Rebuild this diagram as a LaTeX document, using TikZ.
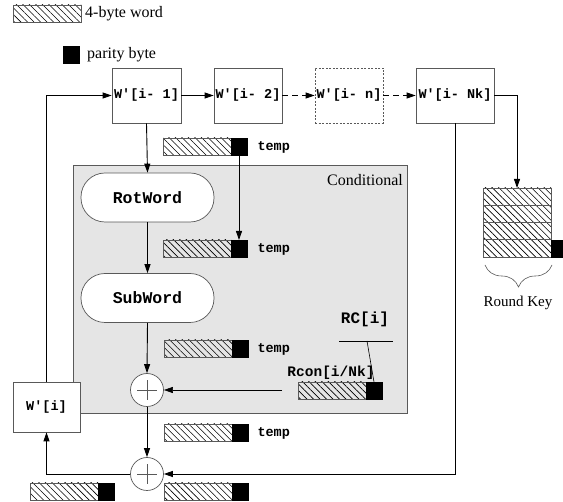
\documentclass[tikz,border=0pt]{standalone}
\usepackage{fontspec}
\setmainfont{Liberation Serif}
\setmonofont{Liberation Mono}
\usetikzlibrary{arrows.meta,patterns.meta,decorations.pathreplacing}

\tikzset{
  box/.style={draw=gray!70!black, fill=white, line width=0.7pt, inner sep=0pt},
  code/.style={font=\ttfamily\bfseries\fontsize{13.5}{16}\selectfont},
  bigcode/.style={font=\ttfamily\bfseries\fontsize{16.5}{19}\selectfont},
  label/.style={font=\fontsize{16}{19}\selectfont, inner sep=0pt},
  hatch/.style={draw=gray!70!black, line width=0.6pt,
    pattern={Lines[angle=-45,distance=4.6pt,line width=0.6pt]},
    minimum width=68pt, minimum height=17pt, inner sep=0pt, outer sep=0pt},
  parity/.style={fill=black, draw=black, line width=0.4pt,
    minimum width=16pt, minimum height=17pt, inner sep=0pt, outer sep=0pt},
  flow/.style={line width=0.9pt, -{Triangle[length=9pt,width=6pt]}},
  plain/.style={line width=0.9pt},
  thinline/.style={line width=0.6pt},
  pill/.style={draw=gray!70!black, fill=white, line width=0.7pt,
    rounded corners=24pt, minimum width=133pt, minimum height=49pt,
    bigcode},
  xor/.style={circle, draw=gray!70!black, fill=white, line width=0.7pt,
    minimum size=33pt, inner sep=0pt,
    path picture={
      \draw[gray!70!black, line width=0.5pt]
        ([xshift=-10pt]path picture bounding box.center) --
        ([xshift=10pt]path picture bounding box.center)
        ([yshift=-10pt]path picture bounding box.center) --
        ([yshift=10pt]path picture bounding box.center);
    }},
}

% a 4-byte word followed by its parity byte
\newcommand\wordbar[3]{%
  \node[hatch, anchor=north west] (#1) at (#2,#3) {};
  \node[parity, anchor=north west] (#1p) at (#1.north east) {};
}

\begin{document}
\begin{tikzpicture}[x=1pt,y=-1pt]
\useasboundingbox (0,0) rectangle (563,502);

% legend
\node[hatch, anchor=north west] (lgw) at (13,5) {};
\node[label, anchor=west] (lgwt) at (85,13.5) {4-byte word};
\node[parity, anchor=north west] (lgp) at (63,46) {};
\node[label, anchor=west] (lgpt) at (87,55) {parity byte};

% conditional region
\node[draw=gray!70!black, fill=gray!20, line width=0.7pt,
      minimum width=334pt, minimum height=248pt, inner sep=0pt,
      anchor=north west] (cond) at (73,165) {};
\node[label, anchor=east] (condt) at (403,180) {Conditional};

% previous key words
\node[box, code, minimum width=69pt, minimum height=55pt] (w1) at (146.5,95.5) {W'[i- 1]};
\node[box, code, minimum width=68pt, minimum height=55pt] (w2) at (248,95.5) {W'[i- 2]};
\node[box, code, minimum width=68pt, minimum height=55pt, dash pattern=on 2pt off 1.5pt] (wn) at (349,95.5) {W'[i- n]};
\node[box, code, minimum width=78pt, minimum height=55pt] (wnk) at (455,95.5) {W'[i- Nk]};
\node[box, code, minimum width=67pt, minimum height=50pt] (wi) at (46.5,407) {W'[i]};

% processing steps
\node[pill] (rot) at (147.5,197.5) {RotWord};
\node[pill] (sub) at (147.5,298) {SubWord};
\node[xor] (xor1) at (147,390) {};
\node[xor] (xor2) at (147,474) {};

% temp words
\wordbar{t1}{163}{138}
\node[code, anchor=west] (t1l) at (254,147) {temp};
\wordbar{t2}{163}{240}
\node[code, anchor=west] (t2l) at (254,249) {temp};
\wordbar{t3}{164}{340}
\node[code, anchor=west] (t3l) at (254,349) {temp};
\wordbar{t4}{164}{424}
\node[code, anchor=west] (t4l) at (254,433) {temp};
\wordbar{b1}{30}{483}
\wordbar{b2}{164}{483}

% round constant
\node[code, font=\ttfamily\bfseries\fontsize{14.5}{17}\selectfont] (rconl) at (331,373) {Rcon[i/Nk]};
\wordbar{rcon}{298}{382}
\node[bigcode, font=\ttfamily\bfseries\fontsize{16}{19}\selectfont] (rc) at (365,319) {RC[i]};
\coordinate (rcl) at (339,341);
\coordinate (rcr) at (393,341);
\coordinate (rck) at (367,341);
\draw[thinline] (rcl) -- (rcr);
\draw[thinline] (rck) -- (rconp.north);
\coordinate (rin) at (282,390);

% round key
\node[hatch, minimum height=17.25pt, anchor=north west] (rk1) at (483,188) {};
\node[hatch, minimum height=17.25pt, anchor=north west] (rk2) at (rk1.south west) {};
\node[hatch, minimum height=17.25pt, anchor=north west] (rk3) at (rk2.south west) {};
\node[hatch, minimum height=17.25pt, anchor=north west] (rk4) at (rk3.south west) {};
\node[parity, minimum height=17.25pt, anchor=north west] (rk4p) at (rk4.north east) {};
\coordinate (brl) at (485,265);
\coordinate (brr) at (552,265);
\draw[gray!70!black, line width=0.6pt, decorate,
      decoration={brace, amplitude=22pt, aspect=0.5, mirror}] (brl) -- (brr);
\node[font=\fontsize{15}{18}\selectfont] (rkt) at (518,303) {Round Key};

% connectors
\draw[flow] (w1.east) -- (w2.west);
\draw[flow, dash pattern=on 6pt off 4pt] (w2.east) -- (wn.west);
\draw[flow, dash pattern=on 6pt off 4pt] (wn.east) -- (wnk.west);
\draw[flow] (wnk.east) -- (rk1.north |- wnk.east) -- (rk1.north);
\draw[flow] (w1.south) -- (rot.north);
\draw[flow] (rot.south) -- (sub.north);
\draw[flow] (t1p.south) -- (t2p.north);
\draw[flow] (sub.south) -- (xor1.north);
\draw[flow, line width=0.6pt] (rin) -- (xor1.east);
\draw[flow] (xor1.south) -- (xor2.north);
\draw[flow] (wnk.south) -- (wnk.south |- xor2.east) -- (xor2.east);
\draw[flow] (xor2.west) -- (wi.south |- xor2.west) -- (wi.south);
\draw[flow] (wi.north) -- (wi.north |- w1.west) -- (w1.west);

\end{tikzpicture}
\end{document}
